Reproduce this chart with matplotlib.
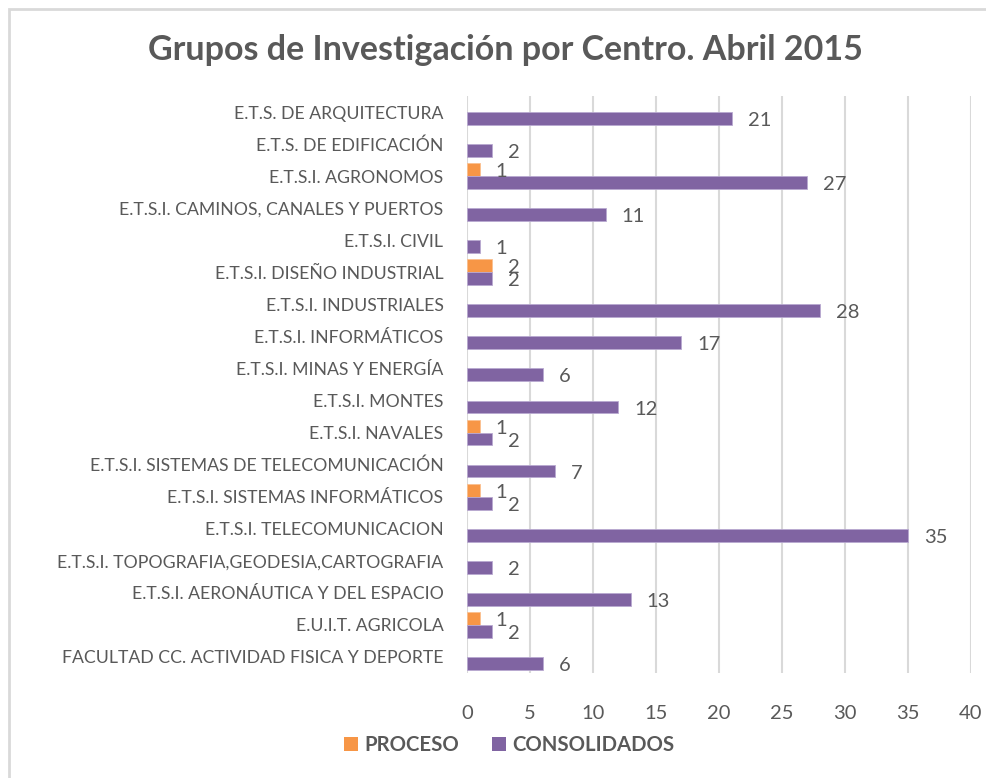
import numpy as np
import matplotlib
matplotlib.use("Agg")
import matplotlib.pyplot as plt
from matplotlib.patches import Patch, Rectangle

plt.rcParams['font.family'] = ['Lato', 'DejaVu Sans']

title = "Grupos de Investigación por Centro. Abril 2015"
categories = [
    "E.T.S. DE ARQUITECTURA",
    "E.T.S. DE EDIFICACIÓN",
    "E.T.S.I. AGRONOMOS",
    "E.T.S.I. CAMINOS, CANALES Y PUERTOS",
    "E.T.S.I. CIVIL",
    "E.T.S.I. DISEÑO INDUSTRIAL",
    "E.T.S.I. INDUSTRIALES",
    "E.T.S.I. INFORMÁTICOS",
    "E.T.S.I. MINAS Y ENERGÍA",
    "E.T.S.I. MONTES",
    "E.T.S.I. NAVALES",
    "E.T.S.I. SISTEMAS DE TELECOMUNICACIÓN",
    "E.T.S.I. SISTEMAS INFORMÁTICOS",
    "E.T.S.I. TELECOMUNICACION",
    "E.T.S.I. TOPOGRAFIA,GEODESIA,CARTOGRAFIA",
    "E.T.S.I. AERONÁUTICA Y DEL ESPACIO",
    "E.U.I.T. AGRICOLA",
    "FACULTAD CC. ACTIVIDAD FISICA Y DEPORTE",
]
proceso = [None, None, 1, None, None, 2, None, None, None, None, 1, None, 1, None, None, None, 1, None]
consolidados = [21, 2, 27, 11, 1, 2, 28, 17, 6, 12, 2, 7, 2, 35, 2, 13, 2, 6]
xticks = [0, 5, 10, 15, 20, 25, 30, 35, 40]
series_names = ["PROCESO", "CONSOLIDADOS"]

c_proc = "#F79646"
c_cons = "#8064A2"
txt = "#595959"

fig = plt.figure(figsize=(9.86, 7.78), dpi=100)
ax = fig.add_axes([467/986, 1 - 673/778, (971 - 467)/986, (673 - 96)/778])

y = np.arange(len(categories))
h = 0.4
pv = np.array([np.nan if v is None else v for v in proceso], dtype=float)
cv = np.array(consolidados, dtype=float)

pb = ax.barh(y - h/2, np.nan_to_num(pv), height=h, color=c_proc, edgecolor="#fbc08f", linewidth=0.6, zorder=3)
cb = ax.barh(y + h/2, cv, height=h, color=c_cons, edgecolor="#b9a9d1", linewidth=0.6, zorder=3)
for bar, v in zip(pb, pv):
    if np.isnan(v):
        bar.set_visible(False)

lab_fs = 14.5
for yi, v in zip(y, pv):
    if not np.isnan(v):
        ax.annotate(f"{int(v)}", (v, yi - h/2), xytext=(11.5, -1.5), textcoords="offset points",
                    ha="left", va="center", fontsize=lab_fs, color=txt)
for yi, v in zip(y, cv):
    ax.annotate(f"{int(v)}", (v, yi + h/2), xytext=(11.5, -1.5), textcoords="offset points",
                ha="left", va="center", fontsize=lab_fs, color=txt)

ax.set_xlim(0, 40)
ax.set_ylim(len(categories) - 0.5, -0.5)
ax.set_xticks(xticks)
ax.set_xticklabels([str(t) for t in xticks])
ax.set_yticks(y)
ax.set_yticklabels(categories)
ax.tick_params(axis="x", length=0, pad=23, labelsize=14.5, labelcolor=txt)
ax.tick_params(axis="y", length=0, pad=17, labelsize=12.7, labelcolor=txt)
for s in ax.spines.values():
    s.set_visible(False)
ax.grid(axis="x", color="#D9D9D9", linewidth=1.5, zorder=0)
ax.set_axisbelow(True)

fig.text(505/986, 1 - 50/778, title, ha="center", va="center", fontsize=24.5,
         fontweight="bold", color=txt)

handles = [Patch(facecolor=c_proc, edgecolor="none"), Patch(facecolor=c_cons, edgecolor="none")]
leg = fig.legend(handles, series_names, loc="center", bbox_to_anchor=(509/986, 1 - 745/778),
                 ncol=2, frameon=False, handlelength=0.7, handleheight=0.7, handletextpad=0.3,
                 columnspacing=1.6, prop={"weight": "bold", "size": 14.7})
for t in leg.get_texts():
    t.set_color(txt)

fig.patches.append(Rectangle((9/986, -0.02), 1.2, 1 - 9/778 + 0.02, transform=fig.transFigure,
                             fill=False, edgecolor="#D9D9D9", linewidth=2.0))

fig.savefig("out.png", dpi=100)
